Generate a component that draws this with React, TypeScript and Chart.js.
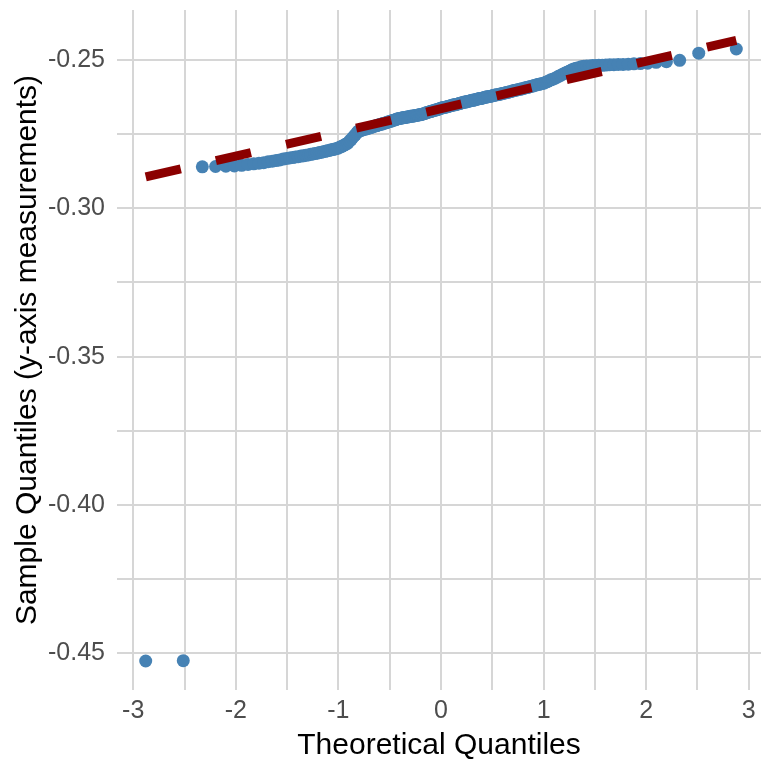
import React, { useEffect, useRef } from 'react';
import { Chart, registerables } from 'chart.js';

Chart.register(...registerables);

const sampleQuantiles: number[] = [
  -0.4526, -0.4525, -0.2860, -0.2859, -0.2858, -0.2857, -0.2855, -0.2852, -0.2850, -0.2848,
  -0.2846, -0.2843, -0.2841, -0.2839, -0.2837, -0.2834, -0.2832, -0.2830, -0.2829, -0.2827,
  -0.2826, -0.2824, -0.2823, -0.2821, -0.2820, -0.2818, -0.2817, -0.2815, -0.2814, -0.2812,
  -0.2811, -0.2809, -0.2808, -0.2806, -0.2805, -0.2803, -0.2802, -0.2800, -0.2799, -0.2797,
  -0.2794, -0.2792, -0.2789, -0.2786, -0.2783, -0.2780, -0.2774, -0.2769, -0.2763, -0.2757,
  -0.2752, -0.2746, -0.2740, -0.2739, -0.2737, -0.2736, -0.2734, -0.2733, -0.2732, -0.2730,
  -0.2729, -0.2728, -0.2726, -0.2725, -0.2723, -0.2722, -0.2721, -0.2719, -0.2718, -0.2717,
  -0.2716, -0.2714, -0.2713, -0.2712, -0.2711, -0.2709, -0.2708, -0.2707, -0.2706, -0.2704,
  -0.2703, -0.2702, -0.2701, -0.2699, -0.2698, -0.2697, -0.2696, -0.2696, -0.2695, -0.2694,
  -0.2694, -0.2693, -0.2692, -0.2692, -0.2691, -0.2690, -0.2690, -0.2689, -0.2689, -0.2688,
  -0.2687, -0.2687, -0.2686, -0.2685, -0.2685, -0.2684, -0.2683, -0.2682, -0.2681, -0.2680,
  -0.2678, -0.2677, -0.2676, -0.2675, -0.2674, -0.2673, -0.2672, -0.2671, -0.2670, -0.2669,
  -0.2668, -0.2667, -0.2666, -0.2664, -0.2663, -0.2662, -0.2661, -0.2660, -0.2660, -0.2659,
  -0.2658, -0.2657, -0.2656, -0.2655, -0.2654, -0.2653, -0.2652, -0.2651, -0.2651, -0.2650,
  -0.2649, -0.2648, -0.2647, -0.2646, -0.2645, -0.2644, -0.2643, -0.2642, -0.2642, -0.2641,
  -0.2640, -0.2639, -0.2638, -0.2637, -0.2636, -0.2636, -0.2635, -0.2634, -0.2633, -0.2632,
  -0.2631, -0.2630, -0.2630, -0.2629, -0.2628, -0.2627, -0.2626, -0.2625, -0.2624, -0.2624,
  -0.2623, -0.2622, -0.2621, -0.2620, -0.2619, -0.2618, -0.2617, -0.2617, -0.2616, -0.2615,
  -0.2614, -0.2613, -0.2612, -0.2611, -0.2610, -0.2609, -0.2608, -0.2607, -0.2606, -0.2604,
  -0.2603, -0.2602, -0.2601, -0.2600, -0.2599, -0.2598, -0.2597, -0.2596, -0.2594, -0.2593,
  -0.2592, -0.2590, -0.2589, -0.2588, -0.2586, -0.2585, -0.2583, -0.2582, -0.2581, -0.2579,
  -0.2578, -0.2575, -0.2573, -0.2570, -0.2567, -0.2565, -0.2562, -0.2559, -0.2555, -0.2552,
  -0.2548, -0.2545, -0.2541, -0.2538, -0.2534, -0.2530, -0.2528, -0.2526, -0.2523, -0.2521,
  -0.2520, -0.2520, -0.2519, -0.2519, -0.2518, -0.2518, -0.2517, -0.2516, -0.2516, -0.2515,
  -0.2515, -0.2514, -0.2513, -0.2512, -0.2511, -0.2508, -0.2506, -0.2501, -0.2477, -0.2463,
];

// Reference (qq) line end points
const refLineX: number[] = [-2.878, 2.878];
const refLineY: number[] = [-0.2894, -0.2434];

// Axes
const xGridValues: number[] = [-3, -2.5, -2, -1.5, -1, -0.5, 0, 0.5, 1, 1.5, 2, 2.5, 3];
const xTickLabels: string[] = ['-3', '', '-2', '', '-1', '', '0', '', '1', '', '2', '', '3'];
const yGridValues: number[] = [-0.45, -0.425, -0.4, -0.375, -0.35, -0.325, -0.3, -0.275, -0.25];
const yTickLabels: string[] = ['-0.45', '', '-0.40', '', '-0.35', '', '-0.30', '', '-0.25'];
const xRange: number[] = [-3.158, 3.119];
const yRange: number[] = [-0.46237, -0.23315];
const xTitle = 'Theoretical Quantiles';
const yTitle = 'Sample Quantiles (y-axis measurements)';

// Inverse standard normal CDF (theoretical quantiles for a QQ plot)
function qnorm(p: number): number {
  const a = [-3.969683028665376e1, 2.209460984245205e2, -2.759285104469687e2, 1.38357751867269e2, -3.066479806614716e1, 2.506628277459239];
  const b = [-5.447609879822406e1, 1.615858368580409e2, -1.556989798598866e2, 6.680131188771972e1, -1.328068155288572e1];
  const c = [-7.784894002430293e-3, -3.223964580411365e-1, -2.400758277161838, -2.549732539343734, 4.374664141464968, 2.938163982698783];
  const d = [7.784695709041462e-3, 3.224671290700398e-1, 2.445134137142996, 3.754408661907416];
  const plow = 0.02425;
  if (p < plow) {
    const q = Math.sqrt(-2 * Math.log(p));
    return (((((c[0] * q + c[1]) * q + c[2]) * q + c[3]) * q + c[4]) * q + c[5]) /
      ((((d[0] * q + d[1]) * q + d[2]) * q + d[3]) * q + 1);
  }
  if (p <= 1 - plow) {
    const q = p - 0.5;
    const r = q * q;
    return ((((((a[0] * r + a[1]) * r + a[2]) * r + a[3]) * r + a[4]) * r + a[5]) * q) /
      (((((b[0] * r + b[1]) * r + b[2]) * r + b[3]) * r + b[4]) * r + 1);
  }
  const q = Math.sqrt(-2 * Math.log(1 - p));
  return -(((((c[0] * q + c[1]) * q + c[2]) * q + c[3]) * q + c[4]) * q + c[5]) /
    ((((d[0] * q + d[1]) * q + d[2]) * q + d[3]) * q + 1);
}

const FONT = "'Liberation Sans', Arial, Helvetica, sans-serif";
const GRID_COLOR = '#D6D6D6';

export default function App() {
  const canvasRef = useRef<HTMLCanvasElement | null>(null);

  useEffect(() => {
    document.body.style.margin = '0';
    const canvas = canvasRef.current;
    if (!canvas) return;
    const n = sampleQuantiles.length;
    const points = sampleQuantiles.map((y, i) => ({ x: qnorm((i + 0.5) / n), y }));
    const linePts = refLineX.map((x, i) => ({ x, y: refLineY[i] }));

    const zeroPad = (s: any) => {
      s.paddingLeft = 0;
      s.paddingRight = 0;
      s.paddingTop = 0;
      s.paddingBottom = 0;
    };

    const chart = new Chart(canvas, {
      type: 'scatter',
      data: {
        datasets: [
          {
            label: 'qq line',
            data: linePts,
            showLine: true,
            borderColor: '#8B0000',
            backgroundColor: '#8B0000',
            borderWidth: 9,
            borderDash: [36, 36],
            borderCapStyle: 'butt',
            pointRadius: 0,
            order: 0,
          } as any,
          {
            label: 'sample',
            data: points,
            pointRadius: 6.5,
            pointBackgroundColor: '#4682B4',
            pointBorderWidth: 0,
            borderWidth: 0,
            order: 1,
          } as any,
        ],
      },
      options: {
        responsive: false,
        animation: false,
        events: [],
        layout: { autoPadding: false, padding: { top: 10, right: 0, bottom: 0, left: 0 } },
        plugins: {
          legend: { display: false },
          tooltip: { enabled: false },
        },
        scales: {
          x: {
            type: 'linear',
            min: xRange[0],
            max: xRange[1],
            afterBuildTicks: (s: any) => {
              s.ticks = xGridValues.map((v) => ({ value: v }));
            },
            afterFit: (s: any) => {
              s.height = 74;
              zeroPad(s);
            },
            ticks: {
              autoSkip: false,
              maxRotation: 0,
              padding: 6,
              color: '#4D4D4D',
              font: { family: FONT, size: 25 },
              callback: (v: any) => {
                const i = xGridValues.indexOf(Number(v));
                return i >= 0 ? xTickLabels[i] : '';
              },
            },
            grid: { color: GRID_COLOR, lineWidth: 2, drawTicks: false },
            border: { display: false },
            title: {
              display: true,
              text: xTitle,
              color: '#000000',
              font: { family: FONT, size: 30 },
              padding: { top: 0, bottom: 0 },
            },
          },
          y: {
            type: 'linear',
            min: yRange[0],
            max: yRange[1],
            afterBuildTicks: (s: any) => {
              s.ticks = yGridValues.map((v) => ({ value: v }));
            },
            afterFit: (s: any) => {
              s.width = 117;
              zeroPad(s);
            },
            ticks: {
              autoSkip: false,
              padding: 12,
              color: '#4D4D4D',
              font: { family: FONT, size: 25 },
              callback: (v: any) => {
                const i = yGridValues.indexOf(Number(v));
                return i >= 0 ? yTickLabels[i] : '';
              },
            },
            grid: { color: GRID_COLOR, lineWidth: 2, drawTicks: false },
            border: { display: false },
            title: {
              display: true,
              text: yTitle,
              color: '#000000',
              font: { family: FONT, size: 30 },
              padding: { top: 10, bottom: 0 },
            },
          },
        },
      } as any,
    });
    return () => {
      chart.destroy();
    };
  }, []);

  return (
    <div style={{ width: 761, height: 764, background: '#ffffff' }}>
      <canvas ref={canvasRef} width={761} height={764} style={{ display: 'block' }} />
    </div>
  );
}
